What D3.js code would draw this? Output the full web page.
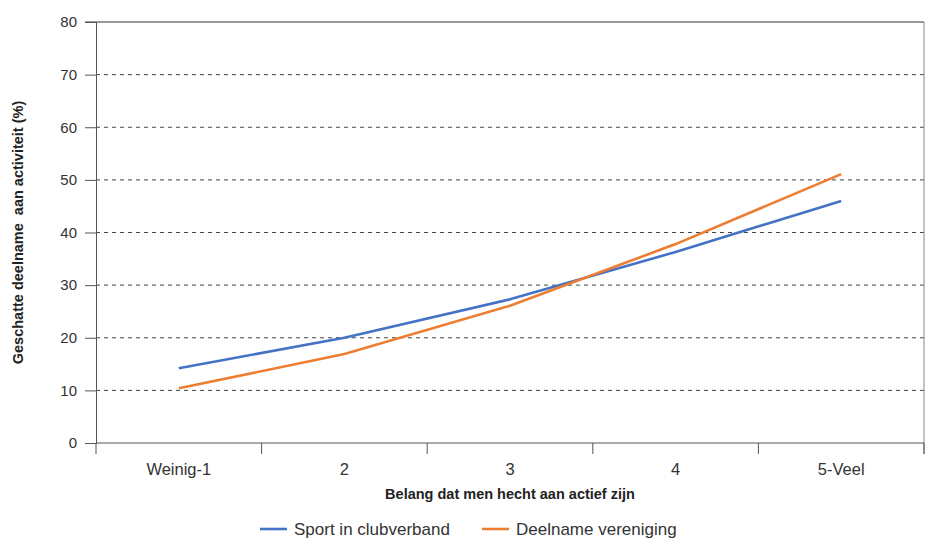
<!DOCTYPE html>
<html><head><meta charset="utf-8">
<script src="https://cdn.jsdelivr.net/npm/d3@7"></script>
<style>body{margin:0;background:#fff;} text{font-family:"Liberation Sans",Arial,sans-serif;}</style>
</head><body>
<svg id="c" width="930" height="538"></svg>
<script>
const categories = ["Weinig-1","2","3","4","5-Veel"];
const sportClub = [14.2, 20.0, 27.3, 36.3, 46.0];
const deelnameVereniging = [10.4, 16.9, 26.1, 37.8, 51.1];
const yTicks = [0,10,20,30,40,50,60,70,80];
const seriesNames = ["Sport in clubverband","Deelname vereniging"];
const colors = ["#4472C4","#ED7D31"];

const svg = d3.select("#c");
const L=96, R=924, T=22, B=443;
const x = d3.scaleBand().domain(categories).range([L,R]);
const y = d3.scaleLinear().domain([0,80]).range([B,T]);

// grid
svg.append("g").selectAll("line").data(yTicks.filter(d=>d>0&&d<80)).join("line")
  .attr("x1",L).attr("x2",R).attr("y1",d=>y(d)).attr("y2",d=>y(d))
  .attr("stroke","#444").attr("stroke-width",1).attr("stroke-dasharray","4,4");
// top solid line
svg.append("line").attr("x1",L-11).attr("x2",R).attr("y1",y(80)).attr("y2",y(80)).attr("stroke","#333");
// right border
svg.append("line").attr("x1",R).attr("x2",R).attr("y1",T).attr("y2",B+11).attr("stroke","#888");

// y axis
const ya = svg.append("g").attr("transform",`translate(${L},0)`)
  .call(d3.axisLeft(y).tickValues(yTicks).tickSize(11).tickPadding(8));
ya.select(".domain").attr("stroke","#555");
ya.selectAll(".tick line").attr("stroke","#555");
ya.selectAll("text").attr("font-size",15).attr("fill","#333").attr("font-family","Liberation Sans, Arial, sans-serif");

// x axis
const bounds = categories.map(c=>x(c)).concat([R]);
svg.append("line").attr("x1",L).attr("x2",R).attr("y1",B).attr("y2",B).attr("stroke","#555");
svg.append("g").selectAll("line").data(bounds).join("line")
  .attr("x1",d=>d).attr("x2",d=>d).attr("y1",B).attr("y2",B+11).attr("stroke","#555");
svg.append("g").selectAll("text").data(categories).join("text")
  .attr("x",d=>x(d)+x.bandwidth()/2).attr("y",B+32).attr("text-anchor","middle")
  .attr("font-size",16.5).attr("fill","#333").text(d=>d);

// lines
const line = d3.line().x((d,i)=>x(categories[i])+x.bandwidth()/2).y(d=>y(d));
[sportClub, deelnameVereniging].forEach((s,i)=>{
  svg.append("path").datum(s).attr("d",line).attr("fill","none")
    .attr("stroke",colors[i]).attr("stroke-width",2.6);
});

// axis titles
svg.append("text").attr("x",(L+R)/2).attr("y",499).attr("text-anchor","middle")
  .attr("font-size",14.5).attr("font-weight","bold").attr("fill","#222")
  .text("Belang dat men hecht aan actief zijn");
svg.append("text").attr("transform",`translate(23,${(T+B)/2}) rotate(-90)`)
  .attr("text-anchor","middle").attr("font-size",14.5).attr("font-weight","bold").attr("fill","#222")
  .style("white-space","pre")
  .text("Geschatte deelname  aan activiteit (%)");

// legend
const lx = [260, 482];
seriesNames.forEach((n,i)=>{
  svg.append("line").attr("x1",lx[i]).attr("x2",lx[i]+27).attr("y1",529).attr("y2",529)
    .attr("stroke",colors[i]).attr("stroke-width",2.6);
  svg.append("text").attr("x",lx[i]+34).attr("y",535).attr("font-size",17).attr("fill","#333").text(n);
});
</script>
</body></html>
